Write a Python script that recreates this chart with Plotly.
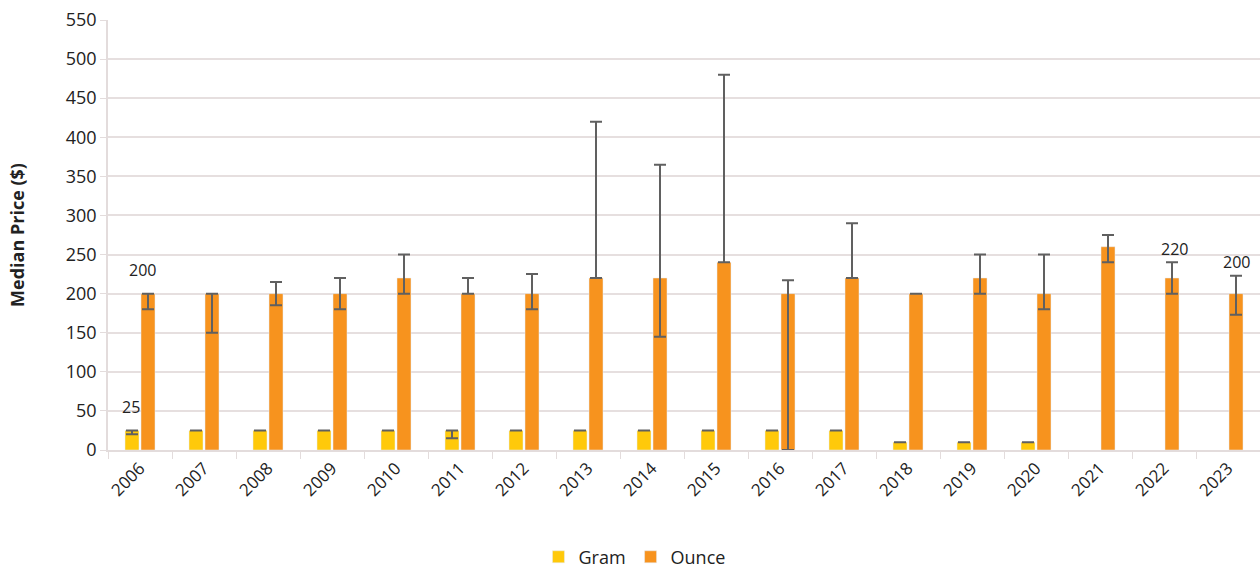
import plotly.graph_objects as go

years = [str(y) for y in range(2006, 2024)]
gram = [25, 25, 25, 25, 25, 25, 25, 25, 25, 25, 25, 25, 10, 10, 10, None, None, None]
gram_plus = [0] * 18
gram_minus = [5, 0, 0, 0, 0, 10, 0, 0, 0, 0, 0, 0, 0, 0, 0, 0, 0, 0]
ounce = [200, 200, 200, 200, 220, 200, 200, 220, 220, 240, 200, 220, 200, 220, 200, 260, 220, 200]
ounce_plus = [0, 0, 15, 20, 30, 20, 25, 200, 145, 240, 17, 70, 0, 30, 50, 15, 20, 23]
ounce_minus = [20, 50, 15, 20, 20, 0, 20, 0, 75, 0, 200, 0, 0, 20, 20, 20, 20, 27]

ERR = "#606060"
FONT = "Open Sans, Noto Sans, sans-serif"

fig = go.Figure()
fig.add_trace(go.Bar(
    name="Gram", x=years, y=gram, marker_color="#FFC90A",
    error_y=dict(type="data", symmetric=False, array=gram_plus, arrayminus=gram_minus,
                 color=ERR, thickness=2, width=6),
))
fig.add_trace(go.Bar(
    name="Ounce", x=years, y=ounce, marker_color="#F7931E",
    error_y=dict(type="data", symmetric=False, array=ounce_plus, arrayminus=ounce_minus,
                 color=ERR, thickness=2, width=6),
))

labels = [("2006", 25, -9, 23), ("2006", 200, 2, 24), ("2022", 220, 10, 29), ("2023", 200, 8, 32)]
for yr, v, xs, ys in labels:
    fig.add_annotation(x=years.index(yr), y=v, text=str(v), showarrow=False, xshift=xs, yshift=ys,
                       font=dict(size=16, color="#222222", family=FONT))

fig.update_layout(
    width=1260, height=568,
    margin=dict(l=108, r=0, t=20, b=118, autoexpand=False),
    plot_bgcolor="white", paper_bgcolor="white",
    barmode="group", bargap=0.5, bargroupgap=0.125,
    font=dict(family=FONT, size=17, color="#222222"),
    legend=dict(orientation="h", xref="paper", x=0.457, xanchor="center",
                yref="paper", y=-0.249, yanchor="middle", font=dict(size=18),
                itemwidth=30, traceorder="normal"),
    showlegend=True,
)
fig.update_xaxes(type="category", range=[-0.5, 17.5], tickangle=-45, showgrid=False,
                 automargin=False,
                 showline=True, linecolor="#e3dcdc", linewidth=1.5,
                 ticks="outside", tickson="boundaries", ticklen=7, tickcolor="#e3dcdc",
                 tickfont=dict(size=17))
fig.update_yaxes(range=[0, 550], dtick=50, showgrid=True, gridcolor="#e6dfdf", gridwidth=1.5,
                 automargin=False,
                 showline=True, linecolor="#e3dcdc", linewidth=1.5,
                 ticks="outside", ticklen=6, tickcolor="#e3dcdc", zeroline=False,
                 tickfont=dict(size=18),
                 title=dict(text="<b>Median Price ($)</b>", font=dict(size=18), standoff=36))

fig.write_html("out.html", config={"displayModeBar": False},
               post_script="document.body.style.margin='0px';document.body.style.overflow='hidden';")
